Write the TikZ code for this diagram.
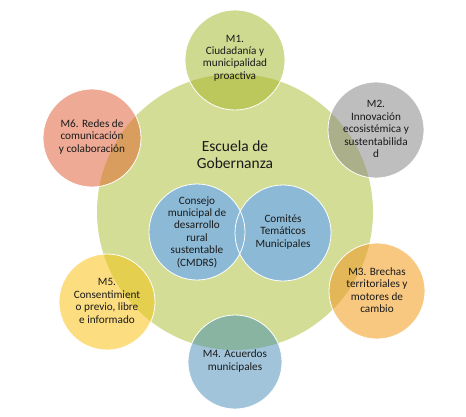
\documentclass[tikz,border=0pt]{standalone}
\usepackage{fontspec}
\setmainfont{Carlito}
\usepackage{tikz}
\usepackage{xcolor}

\definecolor{schoolGreen}{HTML}{D3DD96}
\definecolor{councilBlue}{HTML}{8CBAD6}
\definecolor{textDark}{HTML}{1A1A1A}

\begin{document}
\begin{tikzpicture}[x=1pt,y=-1pt,
    mtext/.style={align=center, text=textDark, font=\fontsize{11.2}{12.4}\selectfont},
    ring/.style={white, line width=0.8pt}]
    \useasboundingbox (0,0) rectangle (466,416);

    % Escuela de Gobernanza
    \coordinate (school) at (235,212);
    \fill[schoolGreen] (school) circle (138pt);

    % outer modules: center / radius / fill / overlap with the school
    \foreach \name/\cx/\cy/\r/\fillc/\overc in {
        m1/235/60/50/CDDA8F/BDC85C,
        m2/376/130/48/BEBEBE/ABAF8A,
        m3/377/291/48/F9C880/E3B757,
        m4/235/362/47/A2C4DA/8AB4A2,
        m5/107/302/48/FCDD80/E5CF4E,
        m6/92/138/49/EEAA94/D99E5E} {
        \definecolor{fillc}{HTML}{\fillc}
        \definecolor{overc}{HTML}{\overc}
        \coordinate (\name) at (\cx,\cy);
        \fill[fillc] (\name) circle (\r pt);
        \begin{scope}
            \clip (school) circle (138pt);
            \fill[overc] (\name) circle (\r pt);
        \end{scope}
        \draw[ring] (\name) circle (\r pt);
    }

    % consejo y comites
    \coordinate (cmdrs) at (197,232);
    \coordinate (comites) at (283,233);
    \fill[councilBlue] (cmdrs) circle (48pt);
    \fill[councilBlue] (comites) circle (48pt);
    \draw[ring] (cmdrs) circle (48pt);
    \draw[ring] (comites) circle (48pt);

    % texts
    \node[mtext, font=\fontsize{15.5}{16.8}\selectfont] (schoolText) at (235,155) {Escuela de\\Gobernanza};
    \node[mtext] (cmdrsText) at (197,232) {Consejo\\municipal de\\desarrollo\\rural\\sustentable\\(CMDRS)};
    \node[mtext] (comitesText) at (283,232) {Comités\\Temáticos\\Municipales};
    \node[mtext] (m1Text) at (235,58) {M1.\\Ciudadanía y\\municipalidad\\proactiva};
    \node[mtext] (m2Text) at (376,129) {M2.\\Innovación\\ecosistémica y\\sustentabilida\\d};
    \node[mtext] (m3Text) at (377,290) {M3. Brechas\\territoriales y\\motores de\\cambio};
    \node[mtext] (m4Text) at (235,361) {M4. Acuerdos\\municipales};
    \node[mtext] (m5Text) at (107,301) {M5.\\Consentimient\\o previo, libre\\e informado};
    \node[mtext] (m6Text) at (92,137) {M6. Redes de\\comunicación\\y colaboración};
\end{tikzpicture}
\end{document}
